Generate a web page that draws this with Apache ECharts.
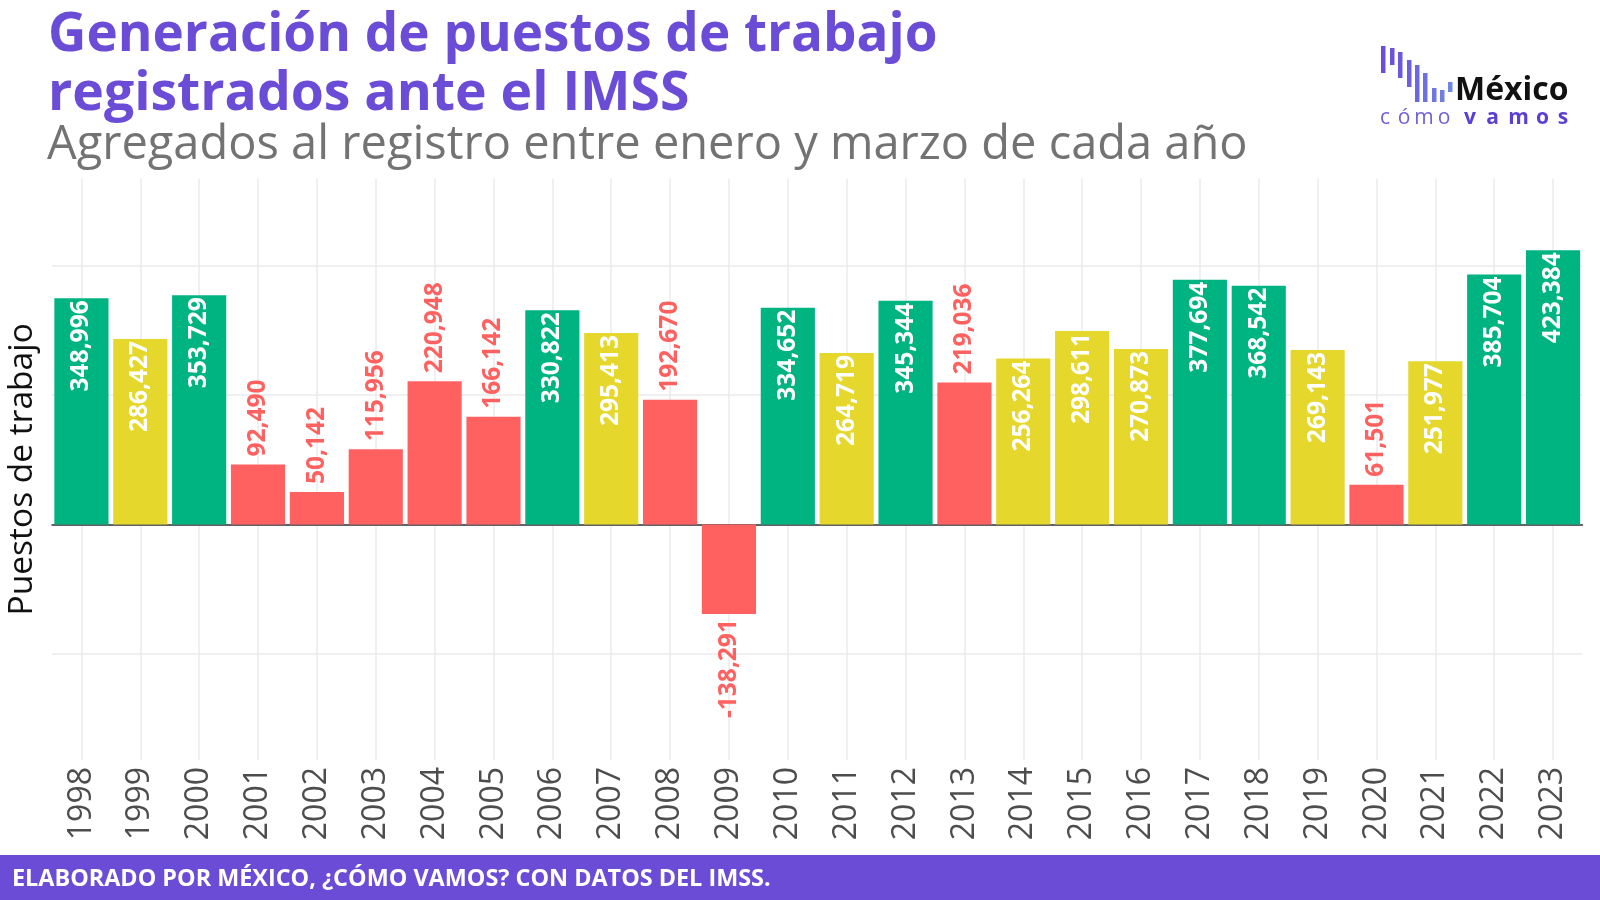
<!DOCTYPE html>
<html><head><meta charset="utf-8">
<script src="https://cdn.jsdelivr.net/npm/echarts@6/dist/echarts.min.js"></script>
<style>html,body{margin:0;padding:0;background:#fff}#c{width:1600px;height:900px}</style>
</head><body><div id="c"></div>
<script>
const years = ['1998','1999','2000','2001','2002','2003','2004','2005','2006','2007','2008','2009','2010','2011','2012','2013','2014','2015','2016','2017','2018','2019','2020','2021','2022','2023'];
const empleos = [348996,286427,353729,92490,50142,115956,220948,166142,330822,295413,192670,-138291,334652,264719,345344,219036,256264,298611,270873,377694,368542,269143,61501,251977,385704,423384];
const nivel = ['alto','medio','alto','bajo','bajo','bajo','bajo','bajo','alto','medio','bajo','bajo','alto','medio','alto','bajo','medio','medio','medio','alto','alto','medio','bajo','medio','alto','alto'];
const colores = {alto:'#00b482', medio:'#e5d72c', bajo:'#ff6161'};

const FONT = '"Open Sans", "Noto Sans", sans-serif';
const fmt = v => v.toLocaleString('en-US');

const barData = empleos.map((v, i) => {
  const c = colores[nivel[i]];
  let label;
  if (nivel[i] !== 'bajo') {
    label = {position:'insideTop', rotate:90, align:'right', verticalAlign:'middle', distance:2, color:'#ffffff'};
  } else if (v >= 0) {
    label = {position:'top', rotate:90, align:'left', verticalAlign:'middle', distance:8, color:c};
  } else {
    label = {position:'bottom', rotate:90, align:'right', verticalAlign:'middle', distance:5, color:c};
  }
  return {value:v, itemStyle:{color:c}, label:label};
});

const chart = echarts.init(document.getElementById('c'), null, {renderer:'canvas'});

const logoBars = [
  [1381,46,73,'#6b4fd8'],[1390,48,65,'#6b52d9'],[1398,52,78,'#6c58da'],[1407,60,87,'#6c60dc'],
  [1415,65,102,'#6d68dd'],[1423,73,102,'#6d70df'],[1432,88,102,'#6e78e0'],[1440,90,102,'#6e7fe1'],[1448,82,92,'#6f86e2']
];
const logoLetters = [['c',1385,false],['ó',1404,false],['m',1424,false],['o',1444,false],['v',1470,true],['a',1492.5,true],['m',1518.5,true],['o',1542.5,true],['s',1563,true]];

const graphics = [
  {type:'rect', shape:{x:0,y:855,width:1600,height:45}, style:{fill:'#6a4cd6'}, silent:true},
  {type:'text', x:12, y:879, style:{text:'ELABORADO POR MÉXICO, ¿CÓMO VAMOS? CON DATOS DEL IMSS.', fill:'#ffffff', font:'bold 23.4px '+FONT, textVerticalAlign:'middle'}},
  {type:'text', x:1455, y:107, style:{text:'México', fill:'#111111', font:'bold 32px '+FONT, textVerticalAlign:'bottom'}}
];
logoBars.forEach(b => graphics.push({type:'rect', shape:{x:b[0], y:b[1], width:4.5, height:b[2]-b[1]}, style:{fill:b[3]}, silent:true}));
logoLetters.forEach(l => graphics.push({type:'text', x:l[1], y:129, style:{text:l[0], fill:l[2]?'#5a3fd2':'#6f5fdc', font:(l[2]?'bold ':'')+'21px '+FONT, textAlign:'center', textVerticalAlign:'bottom'}}));

chart.setOption({
  backgroundColor:'#ffffff',
  animation:false,
  textStyle:{fontFamily:FONT},
  title:[
    {text:'Generación de puestos de trabajo', left:43, top:4, textStyle:{fontSize:53, fontWeight:'bold', color:'#6a4cd6', fontFamily:FONT}},
    {text:'registrados ante el IMSS', left:43, top:63, textStyle:{fontSize:53.5, fontWeight:'bold', color:'#6a4cd6', fontFamily:FONT}},
    {text:'Agregados al registro entre enero y marzo de cada año', left:42, top:117, textStyle:{fontSize:47, fontWeight:'normal', color:'#737373', fontFamily:FONT}}
  ],
  graphic:graphics,
  grid:[
    {left:52, right:17.5, top:135.7, bottom:116.3, containLabel:false, outerBoundsMode:'none'},
    {left:81.5, right:47, top:178.6, bottom:140, containLabel:false, outerBoundsMode:'none'}
  ],
  xAxis:[
    {type:'category', gridIndex:0, data:years, axisLine:{show:true, onZero:true, lineStyle:{color:'#333333', width:1.5}}, axisTick:{show:false}, axisLabel:{show:false}, splitLine:{show:false}},
    {type:'category', gridIndex:1, data:years, boundaryGap:false, axisLine:{show:false}, axisTick:{show:false},
     axisLabel:{interval:0, rotate:90, margin:7, fontSize:32, color:'#4d4d4d', fontFamily:FONT},
     splitLine:{show:true, interval:0, lineStyle:{color:'#ebebeb', width:1.5}}}
  ],
  yAxis:[
    {type:'value', gridIndex:0, min:-400000, max:600000, interval:200000, axisLine:{show:false}, axisTick:{show:false}, axisLabel:{show:false},
     splitLine:{show:true, showMinLine:false, showMaxLine:false, lineStyle:{color:'#ebebeb', width:1.5}}},
    {type:'value', gridIndex:1, min:0, max:1, name:'Puestos de trabajo', nameLocation:'middle', nameRotate:90, nameGap:42,
     nameTextStyle:{fontSize:33.5, color:'#111111', fontFamily:FONT},
     axisLine:{show:false}, axisTick:{show:false}, axisLabel:{show:false}, splitLine:{show:false}}
  ],
  series:[{
    type:'bar', xAxisIndex:0, yAxisIndex:0, data:barData, barCategoryGap:'8%', z:5,
    label:{show:true, fontSize:24.5, fontWeight:'bold', fontFamily:FONT, formatter:p => fmt(p.value)}
  }]
});
</script></body></html>
